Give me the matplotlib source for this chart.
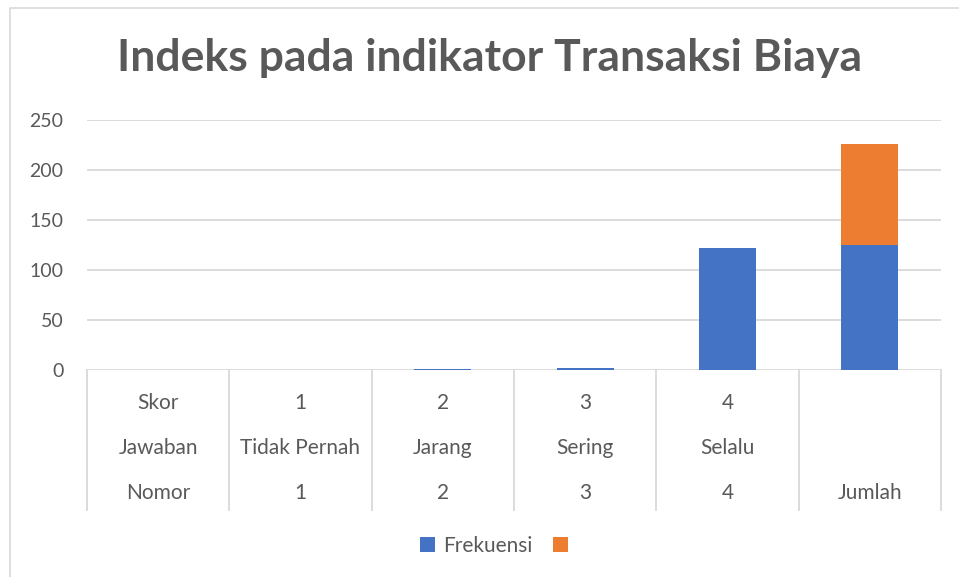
import matplotlib.pyplot as plt
from matplotlib.lines import Line2D

# data
skor = ["Skor", "1", "2", "3", "4", ""]
jawaban = ["Jawaban", "Tidak Pernah", "Jarang", "Sering", "Selalu", ""]
nomor = ["Nomor", "1", "2", "3", "4", "Jumlah"]
frekuensi = [0, 0, 1, 2, 122, 125]
lainnya = [0, 0, 0, 0, 0, 101]  # second series, no name in legend

BLUE = "#4472C4"
ORANGE = "#ED7D31"
GREY = "#595959"
GRID = "#D9D9D9"

plt.rcParams['font.family'] = ['Lato', 'DejaVu Sans']

fig = plt.figure(figsize=(9.59, 5.77), dpi=100)
W, H = 959, 577

# chart border (only top and left are inside the crop)
fig.lines.append(Line2D([10 / W, 10 / W, 1], [0, 1 - 8 / H, 1 - 8 / H],
                        transform=fig.transFigure, color=GRID, lw=1.2))

ax = fig.add_axes([87 / W, 1 - 370 / H, (941 - 87) / W, 250 / H])
x = list(range(len(frekuensi)))
b1 = ax.bar(x, frekuensi, width=0.4, color=BLUE, zorder=3)
b2 = ax.bar(x, lainnya, width=0.4, bottom=frekuensi, color=ORANGE, zorder=3)

ax.set_xlim(-0.5, len(x) - 0.5)
ax.set_ylim(0, 250)
ax.set_yticks(range(0, 251, 50))
ax.yaxis.grid(True, color=GRID, lw=1.3)
ax.set_axisbelow(True)
for s in ax.spines.values():
    s.set_visible(False)
ax.tick_params(axis='y', length=0, pad=17, labelsize=14, labelcolor=GREY)
ax.set_xticks([])

# multi-level category labels
tr = ax.get_xaxis_transform()
rows = [(skor, -0.132), (jawaban, -0.312), (nomor, -0.492)]
for labels, yy in rows:
    for i, t in enumerate(labels):
        ax.text(i, yy, t, transform=tr, ha='center', va='center',
                fontsize=15, color=GREY)
for i in range(len(x) + 1):
    ax.plot([i - 0.5, i - 0.5], [0, -0.56], transform=tr, color=GRID,
            lw=1.3, clip_on=False)

fig.text(490 / W, 1 - 58 / H, "Indeks pada indikator Transaksi Biaya",
         ha='center', va='center', fontsize=32, fontweight='bold', color=GREY)

fig.legend([b1, b2], ["Frekuensi", ""], loc='center', ncol=2,
           bbox_to_anchor=(498 / W, 1 - 546 / H), frameon=False,
           fontsize=15, labelcolor=GREY, handlelength=0.7, handleheight=0.7,
           handletextpad=0.4, columnspacing=1.0)

fig.savefig("out.png", dpi=100)
